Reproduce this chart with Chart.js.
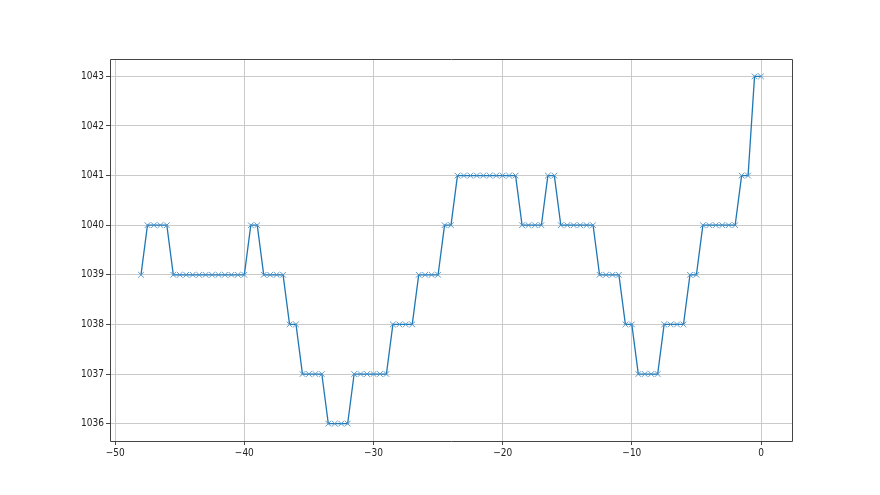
<!DOCTYPE html>
<html>
<head>
<meta charset="utf-8">
<script src="https://cdn.jsdelivr.net/npm/chart.js@4/dist/chart.umd.min.js"></script>
<style>
html,body{margin:0;padding:0;background:#fff;}
#wrap{width:880px;height:495px;}
</style>
</head>
<body>
<div id="wrap"><canvas id="c" width="880" height="495"></canvas></div>
<script>
const xValues = [-48,-47.5,-47,-46.5,-46,-45.5,-45,-44.5,-44,-43.5,-43,-42.5,-42,-41.5,-41,-40.5,-40,
  -39.5,-39,-38.5,-38,-37.5,-37,-36.5,-36,-35.5,-35,-34.5,-34,-33.5,-33,-32.5,-32,
  -31.5,-31,-30.5,-30,-29.5,-29,-28.5,-28,-27.5,-27,-26.5,-26,-25.5,-25,-24.5,-24,
  -23.5,-23,-22.5,-22,-21.5,-21,-20.5,-20,-19.5,-19,-18.5,-18,-17.5,-17,-16.5,-16,
  -15.5,-15,-14.5,-14,-13.5,-13,-12.5,-12,-11.5,-11,-10.5,-10,-9.5,-9,-8.5,-8,
  -7.5,-7,-6.5,-6,-5.5,-5,-4.5,-4,-3.5,-3,-2.5,-2,-1.5,-1,-0.5,0];
const yValues = [1039,1040,1040,1040,1040,1039,1039,1039,1039,1039,1039,1039,1039,1039,1039,1039,1039,
  1040,1040,1039,1039,1039,1039,1038,1038,1037,1037,1037,1037,1036,1036,1036,1036,
  1037,1037,1037,1037,1037,1037,1038,1038,1038,1038,1039,1039,1039,1039,1040,1040,
  1041,1041,1041,1041,1041,1041,1041,1041,1041,1041,1040,1040,1040,1040,1041,1041,
  1040,1040,1040,1040,1040,1040,1039,1039,1039,1039,1038,1038,1037,1037,1037,1037,
  1038,1038,1038,1038,1039,1039,1040,1040,1040,1040,1040,1040,1041,1041,1043,1043];
const xTicks = [-50,-40,-30,-20,-10,0];
const yTicks = [1036,1037,1038,1039,1040,1041,1042,1043];

const pts = xValues.map((x,i)=>({x:x,y:yValues[i]}));
const fmt = v => (v<0 ? '\u2212'+Math.abs(v) : String(v));
const FONT = { family: '"Liberation Sans Narrow", "DejaVu Sans Condensed", sans-serif', size: 10 };

new Chart(document.getElementById('c'), {
  type: 'scatter',
  data: { datasets: [{
    data: pts,
    showLine: true,
    borderColor: '#1f77b4',
    backgroundColor: '#1f77b4',
    borderWidth: 1.3,
    pointStyle: 'crossRot',
    pointRadius: 4,
    pointBorderWidth: 0.9,
    pointBorderColor: '#4a90c8',
    pointHoverRadius: 4
  }]},
  options: {
    responsive: false,
    animation: false,
    events: [],
    layout: { padding: { left: 50, right: 88, top: 59, bottom: 24 } },
    plugins: { legend: { display: false }, tooltip: { enabled: false } },
    scales: {
      x: {
        type: 'linear',
        min: -50.4, max: 2.4,
        afterBuildTicks: s => { s.ticks = xTicks.map(v=>({value:v})); },
        afterFit: s => { s.height = 30; },
        grid: { color: '#c4c4c4', lineWidth: 0.9, tickColor: '#333', tickLength: 4, drawTicks: true },
        border: { display: false },
        ticks: { color: '#222', font: FONT, padding: 2, maxRotation: 0, autoSkip: false, callback: v => fmt(v) }
      },
      y: {
        type: 'linear',
        min: 1035.65, max: 1043.35,
        afterBuildTicks: s => { s.ticks = yTicks.map(v=>({value:v})); },
        afterFit: s => { s.width = 60; },
        grid: { color: '#c4c4c4', lineWidth: 0.9, tickColor: '#333', tickLength: 4, drawTicks: true },
        border: { display: false },
        ticks: { color: '#222', font: FONT, padding: 2, autoSkip: false, callback: v => String(v) }
      }
    }
  },
  plugins: [{
    id: 'frame',
    afterDraw(chart) {
      const ctx = chart.ctx;
      const xs = chart.scales.x, ys = chart.scales.y;
      const l = Math.round(xs.left)+0.5, r = Math.round(xs.right)+0.5;
      const t = Math.round(ys.top)+0.5, b = Math.round(ys.bottom)+0.5;
      ctx.save();
      ctx.strokeStyle = '#444';
      ctx.lineWidth = 1;
      ctx.beginPath();
      ctx.moveTo(l,t); ctx.lineTo(r,t); ctx.lineTo(r,b); ctx.lineTo(l,b); ctx.closePath();
      ctx.stroke();
      ctx.restore();
    }
  }]
});
</script>
</body>
</html>
